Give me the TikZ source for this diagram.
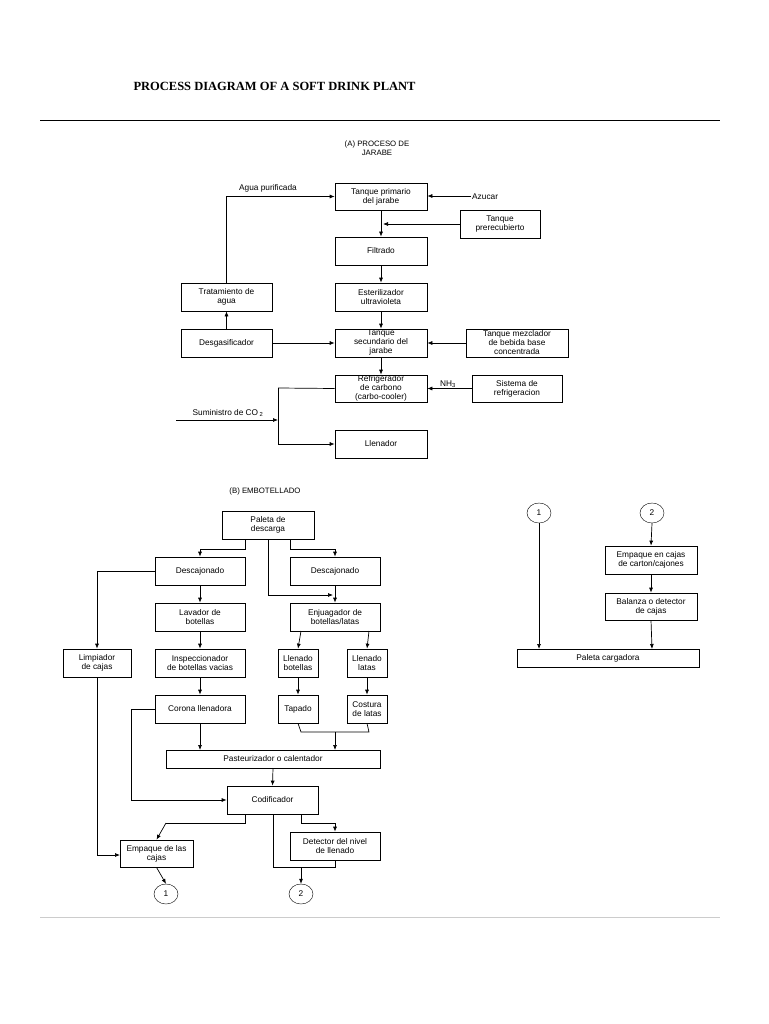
\documentclass[tikz,border=0pt]{standalone}
\usepackage{fontspec}
\setmainfont{Liberation Sans}
\newfontfamily\titlefont{Liberation Serif}
\usetikzlibrary{arrows.meta,shapes.geometric}
\begin{document}
\begin{tikzpicture}[x=1pt,y=-1pt,
  bx/.style={draw,line width=0.7pt,inner sep=0pt,align=center,font=\fontsize{8.3}{9}\selectfont},
  lbl/.style={inner sep=1pt,font=\fontsize{8.3}{9}\selectfont},
  ar/.style={-{Latex[length=5pt,width=4pt]},line width=0.7pt},
  ln/.style={line width=0.7pt},
  circ/.style={draw,ellipse,minimum width=24pt,minimum height=20pt,inner sep=0pt,font=\fontsize{8.3}{9}\selectfont}]
\newcommand\bx[6]{\node[bx,minimum width={(#4-#2)*1pt},minimum height={(#5-#3)*1pt}] (#1) at ({(#2+#4)/2},{(#3+#5)/2}) {#6};}
\useasboundingbox (0,0) rectangle (768,1024);
\fill[white] (0,0) rectangle (768,1024);
\node[font=\titlefont\bfseries\fontsize{12.5}{14}\selectfont,anchor=west] (title) at (130,86) {PROCESS DIAGRAM OF A SOFT DRINK PLANT};
\draw[line width=0.8pt] (40,120) -- (720,120);
\draw[gray!40,line width=0.8pt] (40,917) -- (720,917);
% Part A
\node[lbl,align=center,font=\fontsize{7.8}{8.5}\selectfont] (ta) at (377,148) {(A) PROCESO DE\\JARABE};
\bx{tp}{335}{183}{427}{210}{Tanque primario\\del jarabe}
\bx{pre}{460}{210}{540}{238}{Tanque\\prerecubierto}
\bx{fil}{335}{237}{427}{265}{Filtrado}
\bx{est}{335}{283}{427}{311}{Esterilizador\\ultravioleta}
\bx{ts}{335}{329}{427}{357}{Tanque\\secundario del\\jarabe}
\bx{tra}{181}{283}{272}{311}{Tratamiento de\\agua}
\bx{deg}{181}{329}{272}{357}{Desgasificador}
\bx{mez}{466}{329}{568}{357}{Tanque mezclador\\de bebida base\\concentrada}
\bx{ref}{335}{375}{427}{402}{Refrigerador\\de carbono\\(carbo-cooler)}
\bx{sis}{472}{375}{562}{402}{Sistema de\\refrigeracion}
\bx{lle}{335}{430}{427}{458}{Llenador}
\node[lbl,anchor=west] (azu) at (471,197) {Azucar};
\coordinate (azs) at (471,196);
\draw[ar] (azs) -- (tp.east |- azs);
\draw[ar] (tp.south) -- (fil.north);
\draw[ar] (pre.west) -- (383,224);
\draw[ar] (fil.south) -- (est.north);
\draw[ar] (est.south) -- (ts.north);
\draw[ar] (ts.south) -- (ref.north);
\draw[ar] (deg.north) -- (tra.north |- tra.south);
\draw[ar] (tra.north) |- (tp.west);
\node[lbl] (agua) at (268,188) {Agua purificada};
\draw[ar] (deg.east) -- (ts.west);
\draw[ar] (mez.west) -- (ts.east);
\draw[ar] (sis.west) -- (ref.east);
\node[lbl] (nh3) at (448,384) {NH\textsubscript{3}};
\coordinate (j1) at (278,388);
\draw[ln] (ref.west) -- (j1);
\draw[ar] (j1) |- (lle.west);
\coordinate (co2) at (176,420);
\draw[ar] (co2) -- (278,420);
\node[lbl] (co2l) at (228,413) {Suministro de CO\,\textsubscript{2}};
% Part B
\node[lbl,font=\fontsize{7.8}{8.5}\selectfont] (tb) at (265,491) {(B) EMBOTELLADO};
\bx{pal}{222}{511}{314}{539}{Paleta de\\descarga}
\bx{dl}{155}{557}{245}{585}{Descajonado}
\bx{dr}{290}{557}{380}{585}{Descajonado}
\bx{lav}{155}{603}{245}{631}{Lavador de\\botellas}
\bx{enj}{290}{603}{380}{631}{Enjuagador de\\botellas/latas}
\bx{lim}{63}{649}{131}{677}{Limpiador\\de cajas}
\bx{ins}{155}{649}{245}{677}{Inspeccionador\\de botellas vacias}
\bx{lb}{278}{649}{318}{677}{Llenado\\botellas}
\bx{ll}{347}{649}{387}{677}{Llenado\\latas}
\bx{cor}{155}{695}{245}{723}{Corona llenadora}
\bx{tap}{278}{695}{318}{723}{Tapado}
\bx{cos}{347}{695}{387}{723}{Costura\\de latas}
\bx{pas}{166}{750}{380}{768}{Pasteurizador o calentador}
\bx{cod}{227}{786}{318}{814}{Codificador}
\bx{emp}{120}{840}{193}{867}{Empaque de las\\cajas}
\bx{det}{290}{832}{380}{860}{Detector del nivel\\de llenado}
\node[circ] (c1) at (166,894) {1};
\node[circ] (c2) at (301,894) {2};
\draw[ln] (245,539) -- (245,549) -- (200,549);
\draw[ar] (200,549) -- (dl.north);
\draw[ln] (290,539) -- (290,549) -- (335,549);
\draw[ar] (335,549) -- (dr.north);
\draw[ln] (268,539) -- (268,595);
\draw[ar] (268,595) -- (333,595);
\draw[ar] (dr.south) -- (enj.north);
\draw[ar] (dl.south) -- (lav.north);
\draw[ar] (lav.south) -- (ins.north);
\draw[ar] (ins.south) -- (cor.north);
\draw[ar] (dl.west) -| (lim.north);
\draw[ar] (301,631) -- (lb.north);
\draw[ar] (369,631) -- (ll.north);
\draw[ar] (lb.south) -- (tap.north);
\draw[ar] (ll.south) -- (cos.north);
\draw[ln] (tap.south) -- (301,732) -- (369,732) -- (cos.south);
\draw[ar] (335,732) -- (335,750);
\draw[ar] (cor.south) -- (200,750);
\draw[ar] (273,768) -- (cod.north);
\draw[ln] (cor.west) -- (131,709) -- (131,800);
\draw[ar] (131,800) -- (cod.west);
\draw[ln] (lim.south) -- (97,855);
\draw[ar] (97,855) -- (120,855);
\draw[ln] (245,814) -- (245,823) -- (166,823);
\draw[ar] (166,823) -- (emp.north);
\draw[ln] (301,814) -- (301,823) -- (335,823);
\draw[ar] (335,823) -- (det.north);
\draw[ln] (273,814) -- (273,867) -- (335,867) -- (det.south);
\draw[ar] (301,867) -- (c2.north);
\draw[ar] (emp.south) -- (c1.north);
% right
\node[circ] (r1) at (539,513) {1};
\node[circ] (r2) at (652,513) {2};
\bx{eca}{605}{546}{697}{574}{Empaque en cajas\\de carton/cajones}
\bx{bal}{605}{593}{697}{620}{Balanza o detector\\de cajas}
\bx{pc}{517}{649}{699}{667}{Paleta cargadora}
\draw[ar] (r2.south) -- (eca.north);
\draw[ar] (eca.south) -- (bal.north);
\draw[ar] (bal.south) -- (652,649);
\draw[ar] (r1.south) -- (539,649);
\end{tikzpicture}
\end{document}
